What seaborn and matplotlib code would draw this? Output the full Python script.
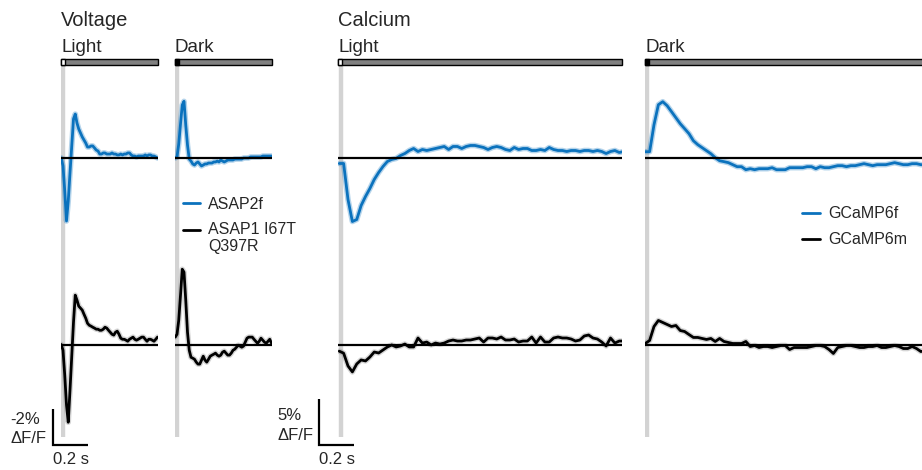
import numpy as np
import seaborn as sns
import matplotlib.pyplot as plt
from matplotlib.patches import Rectangle
from matplotlib.lines import Line2D
from matplotlib import transforms

sns.set_style("white")
plt.rcParams['font.family'] = ['Liberation Sans', 'DejaVu Sans']

# sampling: first sample 10 ms before the stimulus step
t0 = -0.01
dt_volt = 0.01
dt_calc = 0.025

# voltage indicators, plotted as -dF/F (%)
asap2f_light = [0.0, -0.44, -1.83, -3.5, -2.39, -0.83, 0.67, 2.17, 2.44, 1.94,
                1.61, 1.39, 1.17, 1.0, 0.83, 0.61, 0.61, 0.67, 0.67, 0.56,
                0.44, 0.39, 0.22, 0.22, 0.28, 0.28, 0.22, 0.22, 0.22, 0.28,
                0.22, 0.22, 0.17, 0.17, 0.22, 0.17, 0.22, 0.22, 0.28, 0.28,
                0.17, 0.11, 0.11, 0.06, 0.11, 0.11, 0.11, 0.11, 0.17, 0.11,
                0.17, 0.17, 0.11, 0.11, 0.06, 0.0]
asap1_light = [0.0, -0.32, -1.71, -3.37, -4.32, -2.54, -0.65, 1.24, 2.74, 2.46,
               2.13, 2.02, 1.91, 1.68, 1.46, 1.18, 1.07, 1.02, 0.96, 0.91,
               0.85, 0.85, 0.79, 0.79, 0.85, 0.96, 0.91, 0.79, 0.68, 0.57,
               0.52, 0.68, 0.74, 0.57, 0.35, 0.29, 0.29, 0.24, 0.18, 0.29,
               0.35, 0.41, 0.29, 0.24, 0.29, 0.35, 0.41, 0.41, 0.29, 0.18,
               0.29, 0.29, 0.24, 0.18, 0.29, 0.41]
asap2f_dark = [0.0, 0.06, 0.78, 1.89, 2.94, 3.15, 1.83, 0.72, -0.06, -0.17,
               -0.33, -0.39, -0.28, -0.22, -0.33, -0.44, -0.39, -0.33, -0.33, -0.28,
               -0.28, -0.28, -0.22, -0.22, -0.17, -0.22, -0.11, -0.17, -0.22, -0.17,
               -0.11, -0.11, -0.11, -0.11, -0.06, -0.06, -0.06, -0.06, -0.06, 0.0,
               0.0, 0.0, 0.0, 0.06, 0.06, 0.06, 0.06, 0.06, 0.06, 0.06,
               0.11, 0.11, 0.11, 0.11, 0.11, 0.11]
asap1_dark = [0.41, 0.57, 1.35, 2.74, 4.18, 4.02, 2.46, 0.68, -0.32, -0.71,
              -0.76, -0.82, -0.98, -1.09, -1.09, -0.87, -0.65, -0.87, -0.98, -0.82,
              -0.65, -0.59, -0.54, -0.48, -0.59, -0.65, -0.59, -0.43, -0.37, -0.48,
              -0.59, -0.59, -0.48, -0.32, -0.26, -0.15, -0.04, -0.09, -0.15, -0.09,
              0.13, 0.35, 0.41, 0.41, 0.41, 0.29, 0.18, 0.07, 0.18, 0.35,
              0.24, 0.13, 0.07, 0.18, 0.29, 0.07]

# calcium indicators, dF/F (%)
gcamp6f_light = [-0.60, -0.60, -4.54, -6.95, -6.73, -5.20, -4.21, -3.34, -2.35, -1.59,
                 -0.93, -0.38, -0.16, -0.05, 0.27, 0.49, 0.82, 1.04, 0.71, 0.93,
                 0.82, 0.93, 1.04, 1.15, 1.26, 0.93, 1.26, 1.26, 1.04, 1.26,
                 1.37, 1.37, 1.26, 1.15, 0.93, 1.15, 1.26, 1.15, 0.93, 0.82,
                 1.15, 0.93, 1.04, 1.04, 0.82, 0.82, 0.93, 0.82, 1.15, 0.93,
                 0.82, 0.82, 0.71, 0.82, 0.82, 0.71, 0.82, 0.82, 0.71, 0.82,
                 0.71, 0.49, 0.71, 0.82, 0.60, 0.71]
gcamp6m_light = [-0.73, -0.95, -2.35, -3.0, -2.13, -1.69, -1.8, -1.37, -0.82, -0.93,
                 -0.6, -0.27, -0.05, -0.27, -0.16, 0.05, -0.27, -0.27, 0.71, 0.16,
                 0.27, -0.05, 0.16, 0.05, 0.16, 0.38, 0.49, 0.38, 0.38, 0.49,
                 0.49, 0.6, 0.71, 0.27, 0.71, 0.71, 0.6, 0.82, 0.49, 0.49,
                 0.6, 0.27, 0.38, 0.38, 0.82, 0.16, 0.82, 0.27, 0.27, 0.71,
                 0.82, 0.71, 0.71, 0.6, 0.38, 0.49, 0.93, 1.04, 0.71, 0.6,
                 0.27, -0.16, 0.71, 0.16, 0.38, 0.38]
gcamp6f_dark = [0.69, 0.69, 3.64, 5.83, 6.16, 5.72, 5.07, 4.41, 3.75, 3.21,
                2.66, 1.89, 1.46, 1.13, 0.8, 0.47, 0.03, -0.3, -0.4, -0.51,
                -0.73, -0.95, -0.95, -1.28, -1.17, -1.28, -1.17, -1.17, -1.17, -1.06,
                -1.28, -1.28, -1.28, -1.06, -1.06, -1.06, -1.06, -0.95, -0.95, -1.17,
                -0.95, -1.06, -1.06, -0.95, -0.84, -0.84, -0.95, -0.84, -0.84, -0.73,
                -0.62, -0.73, -0.84, -0.73, -0.73, -0.73, -0.62, -0.51, -0.62, -0.73,
                -0.73, -0.62, -0.62, -0.73, -0.73]
gcamp6m_dark = [0.11, 0.44, 1.97, 2.63, 2.41, 2.19, 1.97, 2.08, 1.53, 1.42,
                1.09, 0.77, 0.77, 0.66, 0.55, 0.66, 0.33, 0.66, 0.33, 0.22,
                0.11, 0.11, 0.11, 0.33, -0.22, -0.11, -0.33, -0.22, -0.22, -0.33,
                -0.22, -0.11, -0.11, -0.55, -0.33, -0.33, -0.33, -0.33, -0.22, -0.11,
                -0.11, -0.22, -0.55, -0.98, -0.33, -0.22, -0.11, -0.11, -0.22, -0.33,
                -0.33, -0.22, -0.22, -0.11, -0.33, -0.33, -0.22, -0.11, -0.22, -0.44,
                -0.44, -0.22, -0.44, -0.77, -0.66]

BLUE = '#0b72bd'
W, H = 922, 470
PPS = 175.0           # pixels per second
TOP, BOT = 65, 437    # axes top / bottom (px)
ZERO_TOP, ZERO_BOT = 158, 344.5


def fx(x):
    return x / W


def fy(y):
    return 1 - y / H


fig = plt.figure(figsize=(W / 100, H / 100), dpi=100)

cols = [
    dict(left=61, stim=63, right=158, ppp=18.0, label='Light', box='white',
         blue=asap2f_light, black=asap1_light, dt=dt_volt),
    dict(left=175, stim=177, right=272, ppp=18.0, label='Dark', box='black',
         blue=asap2f_dark, black=asap1_dark, dt=dt_volt),
    dict(left=338, stim=341, right=622, ppp=9.14, label='Light', box='white',
         blue=gcamp6f_light, black=gcamp6m_light, dt=dt_calc),
    dict(left=645, stim=647, right=929, ppp=9.14, label='Dark', box='black',
         blue=gcamp6f_dark, black=gcamp6m_dark, dt=dt_calc),
]

axes = []
for c in cols:
    ax = fig.add_axes([fx(c['left']), fy(BOT), (c['right'] - c['left']) / W, (BOT - TOP) / H])
    ppp = c['ppp']
    x0 = (c['left'] - c['stim']) / PPS
    x1 = (c['right'] - c['stim']) / PPS
    ax.set_xlim(x0, x1)
    ax.set_ylim(-(BOT - ZERO_TOP) / ppp, (ZERO_TOP - TOP) / ppp)
    offset = (ZERO_BOT - ZERO_TOP) / ppp

    ax.axvline(0, color='#d3d3d3', lw=3.2, zorder=0)

    t = t0 + c['dt'] * np.arange(len(c['blue']))
    blue = np.array(c['blue'])
    black = np.array(c['black']) - offset
    sns.lineplot(x=t, y=blue, ax=ax, color=BLUE, lw=4, alpha=0.3, zorder=1)
    sns.lineplot(x=t, y=blue, ax=ax, color=BLUE, lw=2, zorder=2)
    sns.lineplot(x=t, y=black, ax=ax, color='#777777', lw=4, alpha=0.3, zorder=1)
    sns.lineplot(x=t, y=black, ax=ax, color='black', lw=2, zorder=2)

    ax.axhline(0, color='black', lw=1.6, zorder=3)
    ax.axhline(-offset, color='black', lw=1.6, zorder=3)

    # stimulus bar
    trans = transforms.blended_transform_factory(ax.transData, ax.transAxes)
    bh = 6 / (BOT - TOP)
    ax.add_patch(Rectangle((x0, 1.0), x1 - x0, bh, transform=trans, fc='#808080',
                           ec='black', lw=1, clip_on=False, zorder=4))
    ax.add_patch(Rectangle((x0, 1.0), 0.024, bh, transform=trans, fc=c['box'],
                           ec='black', lw=1, clip_on=False, zorder=5))
    fig.text(fx(c['left']), fy(52.5), c['label'], fontsize=13.5, va='baseline')
    ax.axis('off')
    axes.append(ax)

fig.text(fx(61), fy(26), 'Voltage', fontsize=14.5, va='baseline')
fig.text(fx(338), fy(26), 'Calcium', fontsize=14.5, va='baseline')


# scale bars, drawn in data units of the light panels
def scale_bar(ax, stim, ppp, x_px, y_px, amp):
    xb = (x_px - stim) / PPS
    yb = -(y_px - ZERO_TOP) / ppp
    ax.plot([xb, xb, xb + 0.2], [yb + amp, yb, yb], color='black', lw=1.6,
            clip_on=False, solid_joinstyle='miter', solid_capstyle='butt')


scale_bar(axes[0], 63, 18.0, 52.5, 445, 2)
scale_bar(axes[2], 341, 9.14, 318.5, 445, 5)

fig.text(fx(10), fy(423.5), '-2%', fontsize=12, va='baseline')
fig.text(fx(10), fy(443), 'ΔF/F', fontsize=12, va='baseline')
fig.text(fx(53), fy(464.5), '0.2 s', fontsize=12, va='baseline')
fig.text(fx(277.5), fy(419.5), '5%', fontsize=12, va='baseline')
fig.text(fx(277), fy(440), 'ΔF/F', fontsize=12, va='baseline')
fig.text(fx(319), fy(464.5), '0.2 s', fontsize=12, va='baseline')

# legends
fig.add_artist(Line2D([fx(183), fx(200)], [fy(203.5)] * 2, color=BLUE, lw=2))
fig.text(fx(208), fy(209.3), 'ASAP2f', fontsize=11.5, va='baseline')
fig.add_artist(Line2D([fx(183), fx(200)], [fy(229.5)] * 2, color='black', lw=2))
fig.text(fx(208), fy(234.5), 'ASAP1 I67T', fontsize=11.5, va='baseline')
fig.text(fx(208), fy(250.7), 'Q397R', fontsize=11.5, va='baseline')

fig.add_artist(Line2D([fx(802), fx(819.5)], [fy(213.3)] * 2, color=BLUE, lw=2))
fig.text(fx(828), fy(218.5), 'GCaMP6f', fontsize=11.5, va='baseline')
fig.add_artist(Line2D([fx(802), fx(819.5)], [fy(238.5)] * 2, color='black', lw=2))
fig.text(fx(828), fy(243.5), 'GCaMP6m', fontsize=11.5, va='baseline')

fig.savefig('out.png', dpi=100)
